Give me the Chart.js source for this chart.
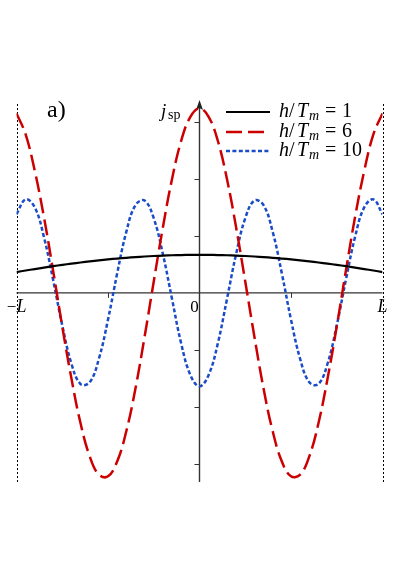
<!DOCTYPE html>
<html>
<head>
<meta charset="utf-8">
<script src="https://cdn.jsdelivr.net/npm/chart.js@4/dist/chart.umd.min.js"></script>
<style>
  body { margin: 0; background: #fff; }
  #c { display: block; }
</style>
</head>
<body>
<canvas id="c" width="415" height="587"></canvas>
<script>
// x positions in units of L
const xs = [-1, -0.95, -0.9, -0.85, -0.8, -0.75, -0.7, -0.65, -0.6, -0.55, -0.5, -0.45, -0.4, -0.35, -0.3, -0.25, -0.2, -0.15, -0.1, -0.05,
  0, 0.05, 0.1, 0.15, 0.2, 0.25, 0.3, 0.35, 0.4, 0.45, 0.5, 0.55, 0.6, 0.65, 0.7, 0.75, 0.8, 0.85, 0.9, 0.95, 1];

// h/Tm = 1
const jsp1 = [0.365, 0.392, 0.418, 0.444, 0.468, 0.491, 0.513, 0.533, 0.552, 0.570, 0.587, 0.602, 0.615, 0.627, 0.638, 0.647, 0.654, 0.660, 0.664, 0.666,
  0.667, 0.666, 0.664, 0.660, 0.654, 0.647, 0.638, 0.627, 0.615, 0.602, 0.587, 0.570, 0.552, 0.533, 0.513, 0.491, 0.468, 0.444, 0.418, 0.392, 0.365];

// h/Tm = 6
const jsp6 = [3.15, 2.78, 2.14, 1.33, 0.39, -0.59, -1.50, -2.29, -2.87, -3.19, -3.22, -2.96, -2.43, -1.68, -0.77, 0.20, 1.15, 2.00, 2.67, 3.09,
  3.24, 3.09, 2.67, 2.00, 1.15, 0.20, -0.77, -1.68, -2.43, -2.96, -3.22, -3.19, -2.87, -2.29, -1.50, -0.59, 0.39, 1.33, 2.14, 2.78, 3.15];

// h/Tm = 10
const jsp10 = [1.38, 1.64, 1.50, 0.98, 0.23, -0.57, -1.24, -1.60, -1.57, -1.16, -0.47, 0.34, 1.07, 1.54, 1.62, 1.31, 0.68, -0.11, -0.89, -1.44,
  -1.64, -1.44, -0.89, -0.11, 0.68, 1.31, 1.62, 1.54, 1.07, 0.34, -0.47, -1.16, -1.57, -1.60, -1.24, -0.57, 0.23, 0.98, 1.50, 1.64, 1.38];

const legendNums = ['1', '6', '10'];
const yTicks = [-3, -2, -1, 1, 2, 3];
const xTicks = [-0.5, 0.5];

const pts = (ys) => ys.map((y, i) => ({ x: xs[i], y: y }));

const serif = '"Liberation Serif", "DejaVu Serif", serif';

// axes, ticks and dotted boundaries under the curves
const axesPlugin = {
  id: 'axes',
  beforeDatasetsDraw(chart) {
    const { ctx, chartArea, scales } = chart;
    const x0 = scales.x.getPixelForValue(0);
    const y0 = scales.y.getPixelForValue(0);
    const xl = scales.x.getPixelForValue(-1);
    const xr = scales.x.getPixelForValue(1);
    ctx.save();

    // dotted lines at -L and L
    ctx.strokeStyle = '#000';
    ctx.lineWidth = 1;
    ctx.setLineDash([2, 2]);
    [xl, xr].forEach((x) => {
      ctx.beginPath();
      ctx.moveTo(Math.round(x) + 0.5, 104);
      ctx.lineTo(Math.round(x) + 0.5, chartArea.bottom);
      ctx.stroke();
    });
    ctx.setLineDash([]);

    ctx.strokeStyle = '#333';
    ctx.lineWidth = 1.4;
    // x axis
    ctx.beginPath();
    ctx.moveTo(xl, y0);
    ctx.lineTo(xr, y0);
    ctx.stroke();
    // y axis
    ctx.beginPath();
    ctx.moveTo(x0, chartArea.bottom);
    ctx.lineTo(x0, chartArea.top + 4);
    ctx.stroke();
    // arrow head
    ctx.fillStyle = '#222';
    ctx.beginPath();
    ctx.moveTo(x0, chartArea.top - 2);
    ctx.lineTo(x0 - 3.5, chartArea.top + 8);
    ctx.lineTo(x0, chartArea.top + 6);
    ctx.lineTo(x0 + 3.5, chartArea.top + 8);
    ctx.closePath();
    ctx.fill();

    // ticks
    ctx.lineWidth = 1;
    yTicks.forEach((v) => {
      const y = Math.round(scales.y.getPixelForValue(v)) + 0.5;
      ctx.beginPath();
      ctx.moveTo(x0 - 5, y);
      ctx.lineTo(x0, y);
      ctx.stroke();
    });
    xTicks.forEach((v) => {
      const x = Math.round(scales.x.getPixelForValue(v)) + 0.5;
      ctx.beginPath();
      ctx.moveTo(x, y0);
      ctx.lineTo(x, y0 + 5);
      ctx.stroke();
    });
    ctx.restore();
  }
};

// text: labels and legend
const textPlugin = {
  id: 'texts',
  afterDraw(chart) {
    const { ctx, scales } = chart;
    const x0 = scales.x.getPixelForValue(0);
    const y0 = scales.y.getPixelForValue(0);
    const xl = scales.x.getPixelForValue(-1);
    const xr = scales.x.getPixelForValue(1);
    ctx.save();
    ctx.fillStyle = '#000';
    ctx.textBaseline = 'alphabetic';

    ctx.font = '24px ' + serif;
    ctx.fillText('a)', 47, 117);

    ctx.font = 'italic 19px ' + serif;
    ctx.fillText('j', 161, 117);
    ctx.font = '14px ' + serif;
    ctx.fillText('sp', 168, 119);

    ctx.font = '17px ' + serif;
    ctx.textAlign = 'center';
    ctx.fillText('0', x0 - 5, y0 + 19);
    ctx.fillText('\u2212', xl - 5, y0 + 19);
    ctx.font = 'italic 18px ' + serif;
    ctx.fillText('L', xl + 5, y0 + 19);
    ctx.fillText('L', xr, y0 + 19);
    ctx.textAlign = 'left';

    // legend
    const rowY = [112, 132, 151];
    chart.data.datasets.forEach((ds, i) => {
      const y = rowY[i];
      ctx.strokeStyle = ds.borderColor;
      ctx.lineWidth = ds.borderWidth;
      ctx.setLineDash(ds.borderDash || []);
      ctx.beginPath();
      ctx.moveTo(226, y);
      ctx.lineTo(270, y);
      ctx.stroke();
      ctx.setLineDash([]);

      const b = y + 5;
      ctx.font = 'italic 20px ' + serif;
      ctx.fillText('h', 279, b);
      ctx.font = '20px ' + serif;
      ctx.fillText('/', 289, b);
      ctx.font = 'italic 20px ' + serif;
      ctx.fillText('T', 297, b);
      ctx.font = 'italic 14px ' + serif;
      ctx.fillText('m', 309, b + 3);
      ctx.font = '20px ' + serif;
      ctx.fillText('=', 325, b);
      ctx.fillText(legendNums[i], 342, b);
    });
    ctx.restore();
  }
};

new Chart(document.getElementById('c'), {
  type: 'line',
  data: {
    datasets: [
      { label: 'h/Tm = 1', data: pts(jsp1), borderColor: '#000000', borderWidth: 2.2 },
      { label: 'h/Tm = 6', data: pts(jsp6), borderColor: '#cc0000', borderWidth: 2.5, borderDash: [16, 6] },
      { label: 'h/Tm = 10', data: pts(jsp10), borderColor: '#1a4cc8', borderWidth: 2.5, borderDash: [4, 2.4] }
    ]
  },
  options: {
    responsive: false,
    animation: false,
    layout: { padding: { left: 16.5, right: 32.5, top: 102, bottom: 105 } },
    elements: { point: { radius: 0 }, line: { tension: 0.4, fill: false } },
    scales: {
      x: { type: 'linear', min: -1, max: 1, display: false },
      y: { type: 'linear', min: -3.32, max: 3.35, display: false }
    },
    plugins: { legend: { display: false }, tooltip: { enabled: false } }
  },
  plugins: [axesPlugin, textPlugin]
});
</script>
</body>
</html>
